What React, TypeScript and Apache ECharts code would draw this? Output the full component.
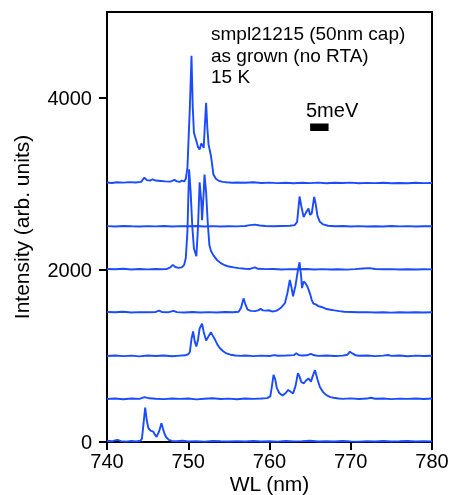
import React, { useEffect, useRef } from "react";
import * as echarts from "echarts";

// Vertical offsets of each stacked spectrum (arb. units)
const offsets = [0, 500, 1000, 1500, 2000, 2500, 3000];

// Spectra: [wavelength (nm), intensity relative to its offset]
const spectrum1: [number, number][] = [
  [740.0, 15], [740.6, 8], [741.0, 18], [741.3, 25], [741.7, 10], [742.3, 5], [743.0, 12], [743.6, 6], [744.1, 15],
  [744.3, 40], [744.5, 220], [744.7, 400], [744.9, 250], [745.1, 160], [745.4, 130], [745.7, 120], [745.9, 85],
  [746.1, 60], [746.4, 120], [746.7, 218], [746.9, 150], [747.1, 90], [747.3, 55], [747.6, 25], [748.0, 12],
  [748.6, 8], [749.3, 14], [750, 6], [751, 10], [752, 4], [753, 12], [754, 8], [755, 5], [756, 10], [757, 6],
  [758, 12], [759, 5], [760, 9], [761, 4], [762, 11], [763, 7], [764, 10], [765, 14], [766, 6], [767, 9], [768, 5],
  [769, 12], [770, 7], [771, 4], [772, 10], [773, 6], [774, 11], [775, 5], [776, 8], [777, 12], [778, 6], [779, 9], [780, 7],
];
const spectrum2: [number, number][] = [
  [740, 0], [741, 5], [742, -3], [743, 6], [744, 2], [744.6, 22], [745.2, 8], [746, 3], [747, -2], [748, 5], [749, 1],
  [750, 6], [751, -4], [752, 3], [753, 8], [754, 0], [755, 4], [756, -3], [757, 5], [758, 2], [759, 6], [759.7, 10],
  [760.1, 30], [760.3, 150], [760.5, 280], [760.7, 230], [760.9, 130], [761.2, 70], [761.6, 40], [762.0, 70],
  [762.3, 105], [762.6, 85], [762.9, 65], [763.2, 150], [763.5, 300], [763.7, 260], [763.9, 200], [764.2, 180],
  [764.5, 215], [764.8, 240], [765.1, 200], [765.3, 260], [765.6, 335], [765.9, 230], [766.2, 140], [766.6, 80],
  [767.0, 45], [767.5, 22], [767.9, 15], [768.5, 6], [769, 2], [770, 7], [771, 0], [772, 5], [772.5, 15], [773, 3],
  [774, 6], [775, -2], [776, 4], [777, 1], [778, 6], [779, 0], [780, 5],
];
const spectrum3: [number, number][] = [
  [740, 0], [741, 6], [742, -2], [743, 4], [744, -4], [745, 5], [746, 0], [747, 6], [748, -3], [749, 4], [749.6, 8],
  [750.0, 20], [750.2, 47], [750.4, 200], [750.6, 285], [750.8, 170], [751.0, 110], [751.2, 190], [751.4, 320],
  [751.7, 375], [751.9, 280], [752.2, 180], [752.5, 230], [752.8, 275], [753.0, 240], [753.3, 190], [753.6, 130],
  [753.9, 90], [754.3, 55], [754.7, 30], [755.2, 15], [755.8, 6], [756.5, 2], [757, 5], [758, -2], [759, 4], [760, 0],
  [760.6, 10], [761, 3], [762, 6], [763, 10], [763.3, 32], [763.6, 12], [764, 5], [764.6, 8], [765.1, 25], [765.5, 8],
  [766, 2], [767, 5], [768, 0], [769, 4], [769.6, 15], [769.9, 50], [770.2, 30], [770.6, 8], [771, 3], [772, 6],
  [773, -2], [774, 4], [774.6, 12], [775, 2], [776, 5], [777, -3], [778, 4], [779, 0], [780, 3],
];
const spectrum4: [number, number][] = [
  [740, 12], [741, 8], [742, 14], [743, 6], [744, 10], [745, 8], [746, 12], [746.4, 28], [746.8, 10], [747.5, 8],
  [748.2, 25], [748.6, 10], [749.5, 6], [750.5, 12], [751.5, 5], [752.5, 10], [753.5, 6], [754.5, 12], [755.5, 8],
  [756.2, 15], [756.5, 60], [756.8, 170], [757.0, 110], [757.3, 40], [757.7, 25], [758.2, 22], [758.6, 30],
  [758.9, 48], [759.2, 30], [759.6, 28], [759.9, 32], [760.3, 18], [760.8, 25], [761.1, 40], [761.4, 60],
  [761.9, 115], [762.2, 230], [762.5, 385], [762.7, 300], [762.9, 195], [763.2, 320], [763.5, 500], [763.7, 590],
  [763.9, 420], [764.0, 290], [764.2, 365], [764.4, 350], [764.6, 320], [764.8, 275], [765.0, 220], [765.2, 150],
  [765.4, 110], [765.7, 100], [766.0, 80], [766.4, 70], [766.9, 50], [767.5, 38], [768.0, 30], [768.6, 22],
  [769.2, 15], [770, 12], [771, 8], [772, 10], [773, 5], [774, 8], [775, 4], [776, 9], [777, 6], [778, 8], [779, 5], [780, 9],
];
const spectrum5: [number, number][] = [
  [740, 12], [741, 8], [742, 14], [743, 6], [744, 11], [745, 7], [746, 12], [746.6, 8], [747.3, 10], [747.8, 30],
  [748.1, 60], [748.4, 35], [748.8, 25], [749.2, 30], [749.5, 60], [749.7, 140], [749.9, 450], [750.1, 1170],
  [750.3, 900], [750.5, 500], [750.7, 250], [751.0, 160], [751.2, 500], [751.4, 1020], [751.6, 800], [751.7, 580],
  [751.9, 900], [752.0, 1110], [752.2, 900], [752.4, 550], [752.6, 290], [752.8, 220], [753.1, 170], [753.5, 120],
  [754.0, 80], [754.5, 55], [755.0, 40], [755.6, 30], [756.2, 22], [757, 15], [757.6, 12], [758.2, 30], [758.6, 14],
  [759.5, 10], [760.5, 12], [761.5, 6], [762.5, 10], [763.5, 8], [764.5, 12], [765.5, 5], [766.5, 10], [767.5, 6],
  [768.5, 9], [769.5, 4], [770.5, 10], [771.5, 18], [772.3, 22], [773, 12], [774, 8], [775, 10], [776, 5], [777, 8],
  [778, 6], [779, 9], [780, 7],
];
const spectrum6: [number, number][] = [
  [740, 10], [741, 6], [742, 12], [743, 8], [744, 5], [745, 10], [746, 7], [747, 12], [748, 6], [749, 10], [750, 8],
  [751, 12], [752, 6], [753, 10], [754, 5], [755, 9], [756, 7], [757, 12], [757.6, 22], [758.2, 28], [758.8, 18],
  [759.5, 12], [760.5, 8], [761.5, 12], [762.5, 14], [763.1, 22], [763.4, 60], [763.7, 355], [763.9, 250],
  [764.2, 115], [764.5, 170], [764.8, 215], [765.0, 140], [765.2, 160], [765.5, 350], [765.7, 260], [765.9, 130],
  [766.2, 60], [766.6, 30], [767.2, 15], [768, 8], [769, 12], [770, 6], [771, 10], [772, 5], [773, 9], [774, 6],
  [775, 11], [776, 7], [777, 10], [778, 5], [779, 9], [780, 8],
];
const spectrum7: [number, number][] = [
  [740, 18], [740.6, 12], [741.2, 20], [742, 16], [742.8, 22], [743.5, 18], [744.2, 25], [744.6, 75], [744.9, 45],
  [745.3, 40], [745.6, 55], [746.0, 40], [746.6, 35], [747.2, 30], [747.8, 28], [748.3, 48], [748.6, 30], [749.0, 25],
  [749.2, 40], [749.5, 30], [749.7, 60], [749.9, 190], [750.2, 900], [750.4, 1490], [750.55, 900], [750.7, 596],
  [751.0, 500], [751.2, 430], [751.4, 401], [751.6, 470], [751.7, 460], [751.9, 420], [752.05, 700], [752.2, 945],
  [752.35, 650], [752.5, 460], [752.8, 323], [753.1, 110], [753.4, 60], [753.7, 40], [754.2, 25], [754.7, 20],
  [755.4, 15], [756, 18], [757, 14], [758, 20], [759, 12], [760, 16], [761, 10], [762, 15], [763, 8], [764, 14],
  [765, 10], [766, 16], [767, 9], [768, 14], [769, 11], [770, 16], [771, 8], [772, 13], [773, 10], [774, 15], [775, 8],
  [776, 12], [777, 9], [778, 14], [779, 10], [780, 12],
];
const spectra = [spectrum1, spectrum2, spectrum3, spectrum4, spectrum5, spectrum6, spectrum7];

const yTicks = [0, 2000, 4000];
const annotationLines = ["smpl21215 (50nm cap)", "as grown (no RTA)", "15 K"];
const scaleBarLabel = "5meV";
const scaleBarX = [765.0, 767.27];
const scaleBarY = 3660;

const FONT = "'Liberation Sans', Arial, Helvetica, sans-serif";
const BLUE = "#1a4bff";

export default function App() {
  const ref = useRef<HTMLDivElement>(null);
  useEffect(() => {
    const chart = echarts.init(ref.current!, null, { renderer: "svg" });
    const lineSeries = spectra.map((sp, i) => ({
      type: "line",
      data: sp.map(([x, y]) => [x, y + offsets[i]]),
      showSymbol: false,
      symbol: "none",
      lineStyle: { color: BLUE, width: 1.9 },
      z: 3,
    }));
    chart.setOption({
      animation: false,
      grid: {
        left: 107, right: 17, top: 12, bottom: 53,
        containLabel: false, outerBoundsMode: "none",
        show: true, borderColor: "#000", borderWidth: 2, backgroundColor: "transparent",
      },
      xAxis: {
        type: "value", min: 740, max: 780, interval: 10,
        name: "WL (nm)", nameLocation: "middle", nameGap: 31, nameMoveOverlap: false,
        nameTextStyle: { fontFamily: FONT, fontSize: 21, color: "#000" },
        axisLine: { show: true, lineStyle: { color: "#000", width: 2 } },
        axisTick: { show: true, inside: false, length: 8, lineStyle: { color: "#000", width: 2 } },
        axisLabel: { fontFamily: FONT, fontSize: 20, color: "#000", margin: 9 },
        splitLine: { show: false },
      },
      yAxis: {
        type: "value", min: 0, max: 5000, interval: 2000,
        name: "Intensity (arb. units)", nameLocation: "middle", nameGap: 75, nameMoveOverlap: false,
        nameTextStyle: { fontFamily: FONT, fontSize: 21, color: "#000" },
        axisLine: { show: true, lineStyle: { color: "#000", width: 2 } },
        axisTick: { show: true, inside: false, length: 8, customValues: yTicks, lineStyle: { color: "#000", width: 2 } },
        axisLabel: {
          fontFamily: FONT, fontSize: 20, color: "#000", margin: 15, customValues: yTicks,
          formatter: (v: number) => String(v),
        },
        splitLine: { show: false },
      },
      series: [
        ...lineSeries,
        {
          type: "line",
          data: scaleBarX.map((x) => [x, scaleBarY]),
          showSymbol: false,
          symbol: "none",
          lineStyle: { color: "#000", width: 7.5, cap: "butt" },
          z: 4,
        },
      ],
      graphic: [
        ...annotationLines.map((t, i) => ({
          type: "text",
          x: 211,
          y: 33.5 + i * 21.7,
          style: { text: t, fontFamily: FONT, fontSize: 19, fill: "#000", verticalAlign: "middle", align: "left" },
        })),
        {
          type: "text",
          x: 306,
          y: 110,
          style: { text: scaleBarLabel, fontFamily: FONT, fontSize: 20, fill: "#000", verticalAlign: "middle", align: "left" },
        },
      ],
    });
    return () => chart.dispose();
  }, []);
  return <div ref={ref} style={{ position: "fixed", left: 0, top: 0, width: 449, height: 495 }} />;
}
